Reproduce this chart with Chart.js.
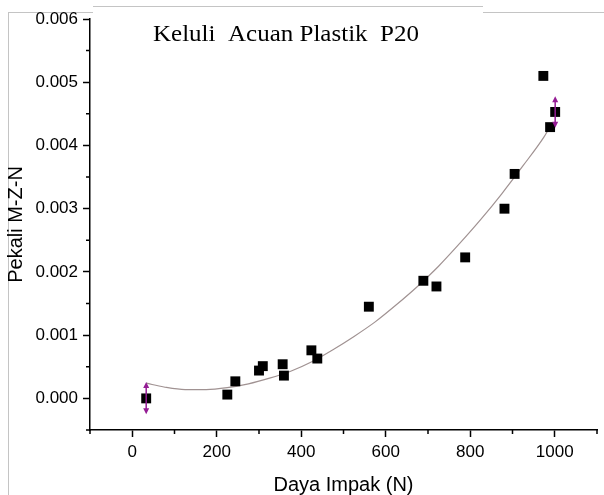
<!DOCTYPE html>
<html>
<head>
<meta charset="utf-8">
<script src="https://cdn.jsdelivr.net/npm/chart.js@4"></script>
<style>
  html, body { margin: 0; padding: 0; background: #fff; }
  #wrap { position: relative; width: 604px; height: 495px; overflow: hidden; }
  #wrap canvas { position: absolute; left: 0; top: 0; }
  .edge { position: absolute; background: #c4c4c4; }
</style>
</head>
<body>
<div id="wrap">
  <div class="edge" style="left:8px;top:12px;width:85px;height:1px"></div>
  <div class="edge" style="left:93px;top:6px;width:390px;height:1px"></div>
  <div class="edge" style="left:483px;top:12px;width:121px;height:1px"></div>
  <div class="edge" style="left:8px;top:12px;width:1px;height:483px"></div>
  <canvas id="chart" width="604" height="495"></canvas>
</div>
<script>
// measured points
const forceN = [33, 225, 244, 300, 309, 356, 359, 424, 438, 560, 689, 720, 788, 881, 905, 973, 989, 1001];
const coefMZN = [0.00000, 0.00006, 0.00027, 0.00044, 0.00051, 0.00054, 0.00036, 0.00076, 0.00063, 0.00145, 0.00186, 0.00177, 0.00223, 0.00300, 0.00355, 0.00510, 0.00429, 0.00453];

// fitted curve
const fitX = [33, 75, 125, 175, 225, 275, 325, 375, 425, 475, 525, 575, 625, 675, 725, 775, 825, 875, 925, 975, 994];
const fitY = [0.00024, 0.00018, 0.00014, 0.00014, 0.00017, 0.00023, 0.00032, 0.00043, 0.00058, 0.00077, 0.00098, 0.00121, 0.00148, 0.00177, 0.00209, 0.00245, 0.00283, 0.00324, 0.00368, 0.00414, 0.00436];

// error bars
const errX = [33, 1001];
const errLow = [-0.00025, 0.00428];
const errHigh = [0.00026, 0.00478];

// ticks
const xTicks = [0, 200, 400, 600, 800, 1000];
const xMinor = [-100, 100, 300, 500, 700, 900, 1100];
const yTicks = [0, 0.001, 0.002, 0.003, 0.004, 0.005, 0.006];
const yMinor = [-0.0005, 0.0005, 0.0015, 0.0025, 0.0035, 0.0045, 0.0055];

const chartTitle = 'Keluli  Acuan Plastik  P20';
const xTitle = 'Daya Impak (N)';
const yTitle = 'Pekali M-Z-N';

const sans = '"Liberation Sans", Arial, sans-serif';

const errorBars = {
  id: 'errorBars',
  afterDatasetsDraw(chart) {
    const { ctx, scales: { x, y } } = chart;
    ctx.save();
    ctx.strokeStyle = '#941c94';
    ctx.fillStyle = '#941c94';
    ctx.lineWidth = 1.5;
    errX.forEach((v, i) => {
      const px = x.getPixelForValue(v);
      const top = y.getPixelForValue(errHigh[i]);
      const bot = y.getPixelForValue(errLow[i]);
      ctx.beginPath();
      ctx.moveTo(px, top + 4);
      ctx.lineTo(px, bot - 4);
      ctx.stroke();
      ctx.beginPath();
      ctx.moveTo(px, top);
      ctx.lineTo(px - 3, top + 6);
      ctx.lineTo(px + 3, top + 6);
      ctx.closePath();
      ctx.fill();
      ctx.beginPath();
      ctx.moveTo(px, bot);
      ctx.lineTo(px - 3, bot - 6);
      ctx.lineTo(px + 3, bot - 6);
      ctx.closePath();
      ctx.fill();
    });
    ctx.restore();
  }
};

const minorTicks = {
  id: 'minorTicks',
  afterDraw(chart) {
    const { ctx, chartArea: a, scales: { x, y } } = chart;
    ctx.save();
    ctx.strokeStyle = '#000';
    ctx.lineWidth = 1.5;
    ctx.beginPath();
    xMinor.forEach(v => {
      const p = x.getPixelForValue(v);
      ctx.moveTo(p, a.bottom);
      ctx.lineTo(p, a.bottom + 4);
    });
    yMinor.forEach(v => {
      const p = y.getPixelForValue(v);
      ctx.moveTo(a.left, p);
      ctx.lineTo(a.left - 4, p);
    });
    ctx.stroke();
    // title inside plot, stretched a little wider like the original
    ctx.fillStyle = '#000';
    ctx.font = '23px "Liberation Serif", "Times New Roman", serif';
    ctx.textBaseline = 'alphabetic';
    const w = ctx.measureText(chartTitle).width;
    ctx.translate(a.left + 63, 41);
    ctx.scale(266 / w, 1);
    ctx.fillText(chartTitle, 0, 0);
    ctx.restore();
  }
};

new Chart(document.getElementById('chart'), {
  type: 'scatter',
  data: {
    datasets: [
      {
        label: 'data',
        data: forceN.map((v, i) => ({ x: v, y: coefMZN[i] })),
        pointStyle: 'rect',
        pointRadius: 7,
        backgroundColor: '#000',
        borderColor: '#000',
        borderWidth: 0,
        order: 0
      },
      {
        label: 'fit',
        data: fitX.map((v, i) => ({ x: v, y: fitY[i] })),
        showLine: true,
        pointRadius: 0,
        borderColor: '#a09292',
        borderWidth: 1.2,
        cubicInterpolationMode: 'monotone',
        order: 1
      }
    ]
  },
  options: {
    responsive: false,
    animation: false,
    layout: { padding: { left: 0, right: 1, top: 19, bottom: 0 } },
    plugins: { legend: { display: false }, tooltip: { enabled: false } },
    scales: {
      x: {
        type: 'linear',
        min: -100,
        max: 1100,
        afterBuildTicks: s => { s.ticks = xTicks.map(v => ({ value: v })); },
        afterFit: s => { s.height = 65; },
        border: { color: '#000', width: 1.5 },
        grid: { drawOnChartArea: false, drawTicks: true, tickLength: 7, tickColor: '#000', tickWidth: 1.5 },
        ticks: { color: '#000', font: { family: sans, size: 17 }, padding: 5, callback: v => String(v) },
        title: { display: true, text: xTitle, color: '#000', font: { family: sans, size: 20, lineHeight: 1.0 }, padding: { top: 0, bottom: 0 } }
      },
      y: {
        min: -0.0005,
        max: 0.006,
        afterBuildTicks: s => { s.ticks = yTicks.map(v => ({ value: v })); },
        afterFit: s => { s.width = 90; },
        border: { color: '#000', width: 1.5 },
        grid: { drawOnChartArea: false, drawTicks: true, tickLength: 7, tickColor: '#000', tickWidth: 1.5 },
        ticks: { color: '#000', font: { family: sans, size: 17 }, padding: 5, callback: v => v.toFixed(3) },
        title: { display: true, text: yTitle, color: '#000', font: { family: sans, size: 20 }, padding: { top: 4, bottom: 0 } }
      }
    }
  },
  plugins: [errorBars, minorTicks]
});
</script>
</body>
</html>
